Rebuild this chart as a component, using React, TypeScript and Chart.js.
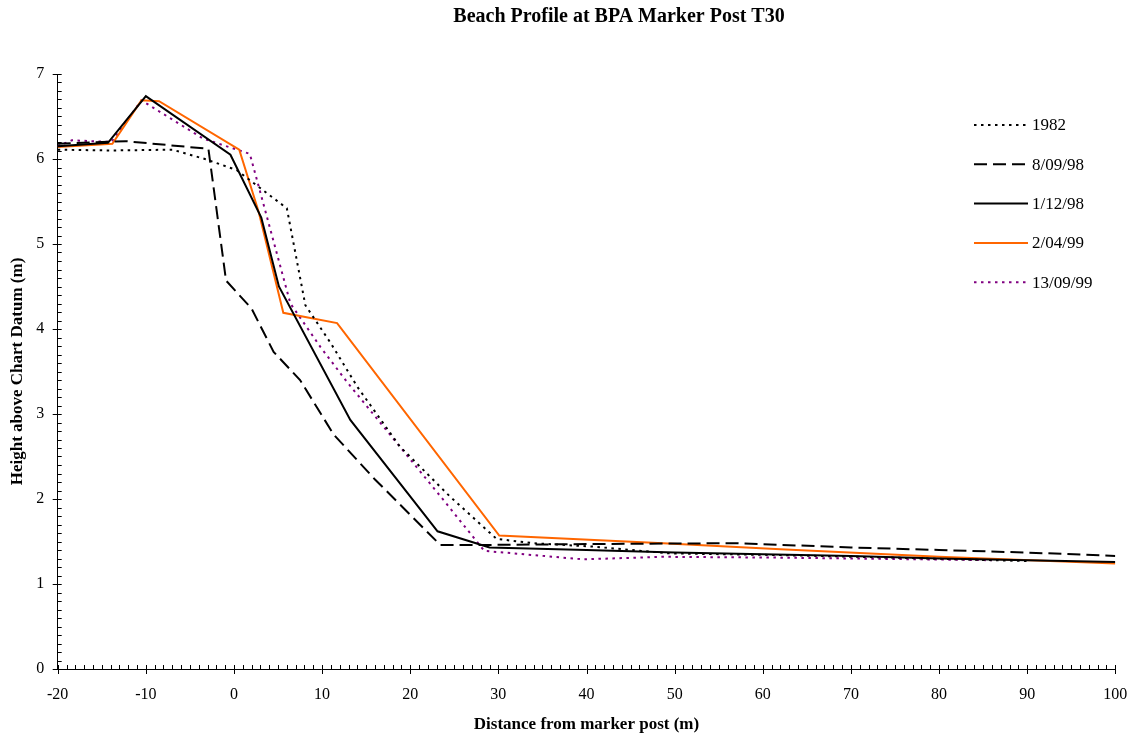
import React, { useEffect, useRef } from "react";
import { Chart, registerables } from "chart.js";

Chart.register(...registerables);

const TITLE = "Beach Profile at BPA Marker Post T30";
const X_TITLE = "Distance from marker post (m)";
const Y_TITLE = "Height above Chart Datum (m)";

const seriesNames = ["1982", "8/09/98", "1/12/98", "2/04/99", "13/09/99"];

const x1982 = [-20, -14, -7, -3.3, 0.3, 6, 8.1, 11, 14, 18.8, 24.5, 29.8, 34, 40.7, 49.5, 62, 75, 90];
const y1982 = [6.11, 6.1, 6.11, 6.0, 5.87, 5.42, 4.28, 3.83, 3.32, 2.62, 2.03, 1.53, 1.48, 1.44, 1.36, 1.34, 1.31, 1.27];

const x080998 = [-20, -12.3, -2.9, -0.9, 2.0, 4.5, 7.5, 11.3, 16, 23.4, 29, 40, 57, 70, 80, 90, 100];
const y080998 = [6.18, 6.21, 6.12, 4.57, 4.24, 3.73, 3.4, 2.76, 2.23, 1.46, 1.46, 1.47, 1.48, 1.43, 1.4, 1.37, 1.33];

const x011298 = [-20, -14.3, -10, -0.4, 3.1, 5.1, 13.2, 23.1, 29, 40, 50, 60, 70, 80, 90, 100];
const y011298 = [6.15, 6.19, 6.74, 6.05, 5.31, 4.5, 2.93, 1.62, 1.43, 1.4, 1.37, 1.35, 1.33, 1.3, 1.28, 1.26];

const x020499 = [-20, -13.8, -10.5, -8.5, 0.6, 2.8, 5.6, 11.7, 30.1, 48.7, 62, 80, 100];
const y020499 = [6.14, 6.18, 6.69, 6.68, 6.11, 5.38, 4.19, 4.07, 1.57, 1.48, 1.41, 1.32, 1.24];

const x130999 = [-20, -18.4, -13.9, -10.5, -3.5, 1.8, 2.8, 6.4, 9.8, 12.8, 23.6, 28.4, 39.6, 48.7, 62, 86];
const y130999 = [6.15, 6.22, 6.2, 6.69, 6.24, 6.06, 5.68, 4.3, 3.79, 3.38, 2.01, 1.39, 1.29, 1.32, 1.31, 1.28];

const seriesX = [x1982, x080998, x011298, x020499, x130999];
const seriesY = [y1982, y080998, y011298, y020499, y130999];

const seriesColors = ["#000000", "#000000", "#000000", "#FF6600", "#800080"];
const seriesDashes: number[][] = [[2.5, 4.5], [13, 6], [], [], [2.5, 4.5]];
const seriesWidths = [2, 2, 2, 2, 2];

const X_MIN = -20;
const X_MAX = 100;
const Y_MIN = 0;
const Y_MAX = 7;

const SERIF = "'Liberation Serif', 'Times New Roman', Times, serif";

const decorPlugin = {
  id: "decor",
  afterDraw(chart: any) {
    const ctx = chart.ctx as CanvasRenderingContext2D;
    const xs = chart.scales.x;
    const ys = chart.scales.y;
    const area = chart.chartArea;
    ctx.save();
    ctx.strokeStyle = "#000";
    ctx.lineWidth = 1;
    ctx.setLineDash([]);
    ctx.beginPath();
    for (let v = X_MIN; v <= X_MAX; v += 1) {
      const px = Math.round(xs.getPixelForValue(v)) + 0.5;
      if (v % 10 === 0) {
        ctx.moveTo(px, area.bottom - 4);
        ctx.lineTo(px, area.bottom + 5);
      } else {
        ctx.moveTo(px, area.bottom - 4);
        ctx.lineTo(px, area.bottom);
      }
    }
    for (let i = 0; i <= (Y_MAX - Y_MIN) * 10; i++) {
      const v = Y_MIN + i / 10;
      const py = Math.round(ys.getPixelForValue(v)) + 0.5;
      if (i % 10 === 0) {
        ctx.moveTo(area.left - 5, py);
        ctx.lineTo(area.left + 4, py);
      } else {
        ctx.moveTo(area.left, py);
        ctx.lineTo(area.left + 4, py);
      }
    }
    ctx.stroke();

    ctx.fillStyle = "#000";
    ctx.font = `bold 20px ${SERIF}`;
    ctx.textAlign = "center";
    ctx.textBaseline = "alphabetic";
    ctx.fillText(TITLE, 619, 22);

    const datasets = chart.data.datasets;
    ctx.font = `17px ${SERIF}`;
    ctx.textAlign = "left";
    ctx.textBaseline = "middle";
    datasets.forEach((ds: any, i: number) => {
      const y = 125 + i * 39.3;
      ctx.beginPath();
      ctx.strokeStyle = ds.borderColor;
      ctx.lineWidth = ds.borderWidth;
      ctx.setLineDash(ds.borderDash || []);
      ctx.moveTo(974, y);
      ctx.lineTo(1028, y);
      ctx.stroke();
      ctx.setLineDash([]);
      ctx.fillStyle = "#000";
      ctx.fillText(ds.label, 1032, y + 1);
    });
    ctx.restore();
  },
};

export default function App() {
  const canvasRef = useRef<HTMLCanvasElement | null>(null);

  useEffect(() => {
    const canvas = canvasRef.current;
    if (!canvas) return;
    const datasets = seriesNames.map((name, i) => ({
      label: name,
      data: seriesX[i].map((x, j) => ({ x, y: seriesY[i][j] })),
      borderColor: seriesColors[i],
      backgroundColor: seriesColors[i],
      borderDash: seriesDashes[i],
      borderWidth: seriesWidths[i],
      pointRadius: 0,
      pointHoverRadius: 0,
      showLine: true,
      fill: false,
      tension: 0,
    }));

    const chart = new Chart(canvas, {
      type: "scatter",
      data: { datasets },
      options: {
        animation: false,
        responsive: false,
        devicePixelRatio: 1,
        layout: { padding: { top: 74, right: 18.7, bottom: 0, left: 0 } },
        plugins: {
          legend: { display: false },
          title: { display: false },
          tooltip: { enabled: false },
        },
        scales: {
          x: {
            type: "linear",
            min: X_MIN,
            max: X_MAX,
            afterFit: (scale: any) => {
              scale.height = 69;
              scale.paddingLeft = 0;
              scale.paddingRight = 0;
            },
            grid: { display: false, drawTicks: false },
            border: { display: true, color: "#000", width: 1 },
            ticks: {
              stepSize: 10,
              autoSkip: false,
              maxRotation: 0,
              padding: 16,
              color: "#000",
              font: { family: SERIF, size: 16 },
              callback: (v: any) => String(v),
            },
            title: {
              display: true,
              text: X_TITLE,
              color: "#000",
              font: { family: SERIF, size: 17, weight: "bold" },
              padding: { top: 0, bottom: 2.8 },
            },
          },
          y: {
            type: "linear",
            min: Y_MIN,
            max: Y_MAX,
            afterFit: (scale: any) => {
              scale.width = 57.7;
              scale.paddingTop = 0;
              scale.paddingBottom = 0;
            },
            grid: { display: false, drawTicks: false },
            border: { display: true, color: "#000", width: 1 },
            ticks: {
              stepSize: 1,
              padding: 13.5,
              color: "#000",
              font: { family: SERIF, size: 16 },
              callback: (v: any) => String(v),
            },
            title: {
              display: true,
              text: Y_TITLE,
              color: "#000",
              font: { family: SERIF, size: 17, weight: "bold" },
              padding: { top: 7.8, bottom: 0 },
            },
          },
        },
      } as any,
      plugins: [decorPlugin],
    });

    return () => {
      chart.destroy();
    };
  }, []);

  return (
    <div
      style={{
        position: "fixed",
        left: 0,
        top: 0,
        width: 1134,
        height: 738,
        background: "#ffffff",
      }}
    >
      <canvas
        ref={canvasRef}
        width={1134}
        height={738}
        style={{ width: 1134, height: 738, display: "block" }}
      />
    </div>
  );
}
